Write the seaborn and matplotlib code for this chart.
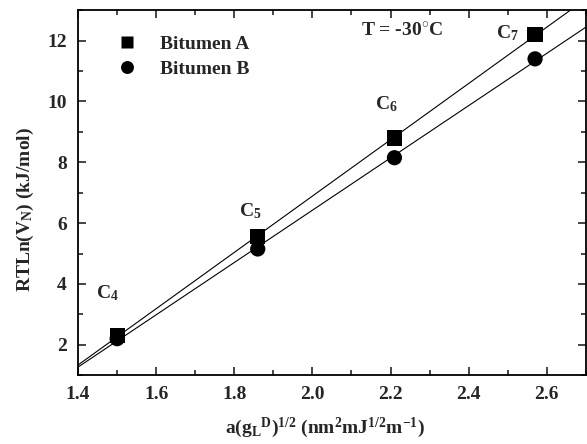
import numpy as np
import pandas as pd
import matplotlib
matplotlib.use("Agg")
import matplotlib.pyplot as plt
import seaborn as sns
from matplotlib.ticker import MultipleLocator

# Data
x_vals = [1.50, 1.86, 2.21, 2.57]
bitumen_a = [2.30, 5.55, 8.80, 12.20]
bitumen_b = [2.20, 5.15, 8.15, 11.40]
alkanes = ["C$_4$", "C$_5$", "C$_6$", "C$_7$"]
label_pos_x = [1.475, 1.84, 2.19, 2.50]
label_pos_y = [3.70, 6.40, 9.90, 12.25]
x_ticks = [1.4, 1.6, 1.8, 2.0, 2.2, 2.4, 2.6]
y_ticks = [2, 4, 6, 8, 10, 12]

df = pd.DataFrame({
    "x": x_vals * 2,
    "y": bitumen_a + bitumen_b,
    "Sample": ["Bitumen A"] * 4 + ["Bitumen B"] * 4,
})

sns.set_theme(style="ticks")
plt.rcParams["font.family"] = ["Liberation Serif", "DejaVu Serif"]
plt.rcParams["font.weight"] = "bold"
plt.rcParams["mathtext.fontset"] = "custom"
plt.rcParams["mathtext.rm"] = "Liberation Serif:bold"
plt.rcParams["mathtext.it"] = "Liberation Serif:bold"
plt.rcParams["mathtext.bf"] = "Liberation Serif:bold"

FS = 14

fig = plt.figure(figsize=(5.87, 4.44), dpi=100)
ax = fig.add_axes([0.133, 0.155, 0.865, 0.822])
ax.set_xlim(1.4, 2.7)
ax.set_ylim(1.0, 13.0)

for name in ["Bitumen A", "Bitumen B"]:
    sub = df[df["Sample"] == name]
    sns.regplot(data=sub, x="x", y="y", ax=ax, ci=None, truncate=False,
                scatter=False, line_kws=dict(color="black", lw=0.8))
sns.scatterplot(data=df, x="x", y="y", style="Sample", markers=["s", "o"],
                color="black", s=120, edgecolor="none", ax=ax, zorder=3)
ax.set_xlim(1.4, 2.7)
ax.set_ylim(1.0, 13.0)

leg = ax.legend(loc="upper left", bbox_to_anchor=(0.042, 0.952), frameon=False,
                prop=dict(family="Liberation Serif", weight="bold", size=FS),
                handletextpad=0.7, labelspacing=0.35, markerscale=0.85,
                borderaxespad=0.0)

for lab, lx, ly in zip(alkanes, label_pos_x, label_pos_y):
    ax.text(lx, ly, lab, ha="center", va="center", fontsize=FS, fontweight="bold")
ax.text(2.23, 12.3, "T = -30$^{\\circ}$C", ha="center", va="center",
        fontsize=FS, fontweight="bold")

ax.set_xticks(x_ticks)
ax.set_yticks(y_ticks)
ax.xaxis.set_minor_locator(MultipleLocator(0.1))
ax.yaxis.set_minor_locator(MultipleLocator(1))
ax.set_xticklabels([f"{t:.1f}" for t in x_ticks], fontweight="bold", fontsize=FS)
ax.set_yticklabels([str(t) for t in y_ticks], fontweight="bold", fontsize=FS)
ax.tick_params(which="both", direction="in", top=True, right=True, width=1.2,
               labeltop=False, labelright=False)
ax.tick_params(which="major", length=6, pad=8)
ax.tick_params(which="minor", length=3.5)
for sp in ax.spines.values():
    sp.set_linewidth(1.3)
    sp.set_color("black")

ax.set_xlabel("a(g$_L$$^D$)$^{1/2}$ (nm$^2$mJ$^{1/2}$m$^{-1}$)", fontsize=FS,
              fontweight="bold")
ax.set_ylabel("RTLn(V$_N$) (kJ/mol)", fontsize=FS, fontweight="bold")
ax.xaxis.set_label_coords(0.487, -0.112)
ax.yaxis.set_label_coords(-0.082, 0.455)

fig.savefig("out.png", dpi=100)
